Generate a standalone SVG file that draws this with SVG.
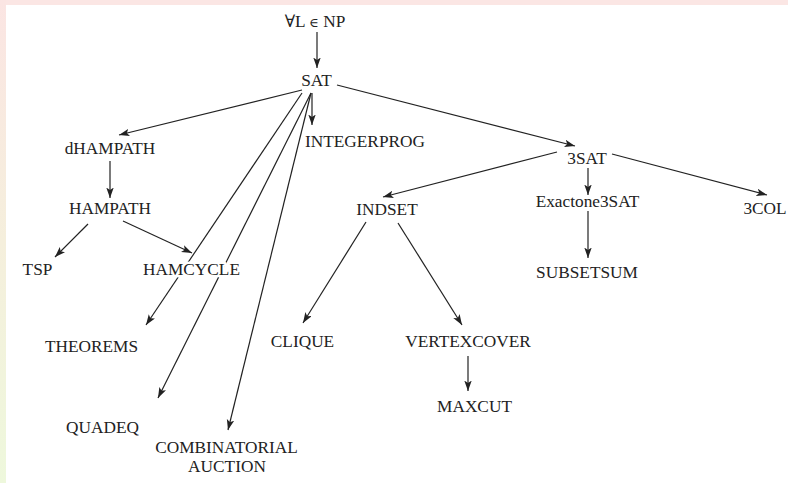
<svg xmlns="http://www.w3.org/2000/svg" width="788" height="483" viewBox="0 0 788 483">
<defs>
<linearGradient id="side" x1="0" y1="0" x2="0" y2="1">
<stop offset="0" stop-color="#fbe5e3"/>
<stop offset="0.5" stop-color="#f5efdc"/>
<stop offset="1" stop-color="#eef8dc"/>
</linearGradient>
<marker id="ah" markerWidth="11" markerHeight="8" refX="10.5" refY="3.75" orient="auto" markerUnits="userSpaceOnUse">
<path d="M0,0 L10.5,3.75 L0,7.5 L2.5,3.75 z" fill="#222"/>
</marker>
<style>
.e{stroke:#222;stroke-width:1.2;fill:none;marker-end:url(#ah)}
.t text{font-family:'Liberation Serif','Times New Roman','DejaVu Serif',serif;font-size:17.3px;fill:#222;text-anchor:middle;stroke:#fff;stroke-width:5px;paint-order:stroke;stroke-linejoin:round}
</style>
</defs>
<rect width="788" height="483" fill="#fff"/>
<rect x="0" y="0" width="788" height="5" fill="#fbe6e4"/>
<rect x="0" y="0" width="6" height="483" fill="url(#side)"/>
<g id="connectors">
<line class="e" x1="317" y1="32" x2="317" y2="68"/>
<line class="e" x1="302" y1="90" x2="119" y2="135"/>
<line class="e" x1="312" y1="93" x2="312" y2="125"/>
<line class="e" x1="337" y1="85" x2="575" y2="146"/>
<line class="e" x1="302" y1="93" x2="146" y2="325"/>
<line class="e" x1="311" y1="93" x2="158" y2="398"/>
<line class="e" x1="311" y1="93" x2="228" y2="430"/>
<line class="e" x1="110" y1="161" x2="110" y2="198"/>
<line class="e" x1="88" y1="224" x2="55" y2="257"/>
<line class="e" x1="123" y1="221" x2="192" y2="253"/>
<line class="e" x1="557" y1="152" x2="383" y2="197"/>
<line class="e" x1="588" y1="168" x2="588" y2="195"/>
<line class="e" x1="612" y1="154" x2="767" y2="195"/>
<line class="e" x1="588" y1="211" x2="588" y2="258"/>
<line class="e" x1="366" y1="222" x2="303" y2="323"/>
<line class="e" x1="398" y1="223" x2="462" y2="325"/>
<line class="e" x1="468" y1="356" x2="468" y2="391"/>
</g>
<g class="t" font-family="Liberation Serif, DejaVu Serif, serif">
<g id="n-allL"><text x="315" y="27">∀L <tspan font-size="13">∈</tspan> NP</text></g>
<g id="n-SAT"><text x="316.5" y="86">SAT</text></g>
<g id="n-dHAMPATH"><text x="110" y="154">dHAMPATH</text></g>
<g id="n-INTEGERPROG"><text x="365" y="147">INTEGERPROG</text></g>
<g id="n-3SAT"><text x="587" y="164">3SAT</text></g>
<g id="n-HAMPATH"><text x="110" y="214">HAMPATH</text></g>
<g id="n-INDSET"><text x="387" y="215">INDSET</text></g>
<g id="n-Exactone3SAT"><text x="587.5" y="207">Exactone3SAT</text></g>
<g id="n-3COL"><text x="765" y="214">3COL</text></g>
<g id="n-TSP"><text x="37.5" y="275">TSP</text></g>
<g id="n-HAMCYCLE"><text x="191.5" y="275">HAMCYCLE</text></g>
<g id="n-SUBSETSUM"><text x="587" y="278">SUBSETSUM</text></g>
<g id="n-THEOREMS"><text x="91.5" y="352">THEOREMS</text></g>
<g id="n-CLIQUE"><text x="302.5" y="347">CLIQUE</text></g>
<g id="n-VERTEXCOVER"><text x="468" y="347">VERTEXCOVER</text></g>
<g id="n-MAXCUT"><text x="474.5" y="412">MAXCUT</text></g>
<g id="n-QUADEQ"><text x="102.5" y="433">QUADEQ</text></g>
<g id="n-COMB"><text x="226.5" y="453">COMBINATORIAL</text><text x="227" y="472">AUCTION</text></g>
</g>
</svg>
